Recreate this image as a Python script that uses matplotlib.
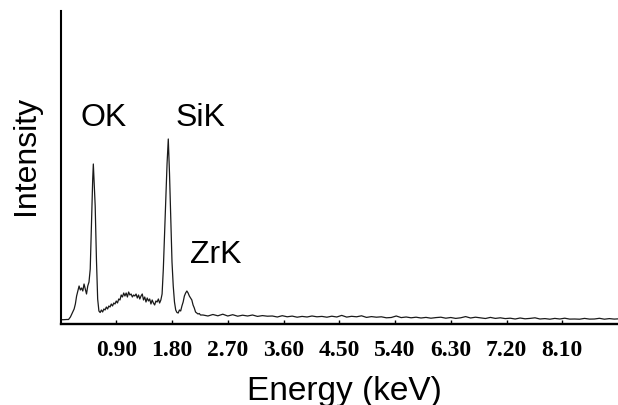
"""
EDS 能谱图 (OK / SiK / ZrK)
"""

import matplotlib
matplotlib.use("Agg")
import matplotlib.pyplot as plt

# 能量 (keV) —— 峰区取样较密
energy_peaks = [
    0.00, 0.05, 0.10, 0.13, 0.16, 0.19, 0.22, 0.24, 0.26, 0.28,
    0.30, 0.32, 0.34, 0.36, 0.38, 0.40, 0.42, 0.44, 0.46, 0.48,
    0.50, 0.52, 0.53, 0.545, 0.56, 0.58, 0.60, 0.62, 0.64, 0.66,
    0.68, 0.70, 0.72, 0.74, 0.76, 0.78, 0.80, 0.82, 0.84, 0.86,
    0.88, 0.90, 0.92, 0.94, 0.96, 0.98, 1.00, 1.02, 1.04, 1.06,
    1.08, 1.10, 1.12, 1.14, 1.16, 1.18, 1.20, 1.22, 1.24, 1.26,
    1.28, 1.30, 1.32, 1.34, 1.36, 1.38, 1.40, 1.42, 1.44, 1.46,
    1.48, 1.50, 1.52, 1.54, 1.56, 1.58, 1.60, 1.62, 1.64, 1.66,
    1.68, 1.70, 1.72, 1.74, 1.76, 1.78, 1.80, 1.82, 1.84, 1.86,
    1.88, 1.90, 1.92, 1.94, 1.96, 1.98, 2.00, 2.02, 2.04, 2.06,
    2.08, 2.10, 2.12, 2.14, 2.16, 2.18, 2.20, 2.22, 2.24, 2.26,
]
counts_peaks = [
    4.3, 4.3, 4.5, 4.5, 7, 11, 15, 20, 28, 33,
    38, 34, 36, 33, 40, 35, 30, 38, 42, 55,
    100, 145, 160, 140, 118, 65, 25, 13, 11.5, 14,
    12, 15, 14, 17, 15, 18, 17, 20, 18, 21,
    20, 23, 21, 25, 24, 29, 27, 31, 28, 31,
    27, 32, 29, 30, 27, 29, 28, 30, 26, 29,
    25, 28, 30, 24, 27, 22, 26, 23, 25, 20,
    24, 21, 19, 23, 22, 25, 21, 24, 30, 55,
    90, 125, 160, 185, 150, 105, 62, 38, 22, 14,
    11.5, 11, 14, 13, 18, 22, 28, 31, 33, 31,
    28, 26, 24, 19, 16, 12, 11, 10, 10.5, 9,
]

# 高能段本底
energy_tail = [
    2.30, 2.38, 2.46, 2.54, 2.62, 2.70, 2.78, 2.86, 2.94, 3.02,
    3.10, 3.18, 3.26, 3.34, 3.42, 3.50, 3.58, 3.66, 3.74, 3.82,
    3.90, 3.98, 4.06, 4.14, 4.22, 4.30, 4.38, 4.46, 4.54, 4.62,
    4.70, 4.78, 4.86, 4.94, 5.02, 5.10, 5.18, 5.26, 5.34, 5.42,
    5.50, 5.58, 5.66, 5.74, 5.82, 5.90, 5.98, 6.06, 6.14, 6.22,
    6.30, 6.38, 6.46, 6.54, 6.62, 6.70, 6.78, 6.86, 6.94, 7.02,
    7.10, 7.18, 7.26, 7.34, 7.42, 7.50, 7.58, 7.66, 7.74, 7.82,
    7.90, 7.98, 8.06, 8.14, 8.22, 8.30, 8.38, 8.46, 8.54, 8.62,
    8.70, 8.78, 8.86, 8.94, 9.02,
]
counts_tail = [
    9.0, 8.0, 9.5, 8.2, 9.8, 8.0, 9.3, 7.8, 8.8, 8.0,
    9.0, 7.6, 8.4, 7.8, 8.0, 7.0, 8.3, 7.2, 7.9, 6.8,
    7.6, 7.0, 8.0, 7.2, 7.6, 6.8, 7.8, 7.0, 8.6, 6.9,
    7.7, 7.2, 8.2, 6.6, 7.4, 6.8, 7.2, 6.2, 6.5, 8.0,
    6.4, 7.0, 6.2, 6.8, 6.0, 6.6, 5.8, 6.4, 6.8, 5.8,
    6.5, 5.6, 6.2, 7.4, 6.0, 6.8, 6.2, 5.5, 6.6, 5.6,
    6.2, 5.4, 5.8, 5.0, 6.0, 5.2, 5.6, 6.2, 5.0, 5.4,
    4.8, 5.6, 5.0, 5.8, 4.9, 5.0, 4.8, 5.6, 4.9, 5.0,
    5.7, 4.8, 5.4, 4.9, 5.2,
]

tick_values = [0.9, 1.8, 2.7, 3.6, 4.5, 5.4, 6.3, 7.2, 8.1]

# 峰标注: (文字, 能量, 强度)
peak_labels = [("OK", 0.315, 199), ("SiK", 1.85, 199), ("ZrK", 2.09, 62)]


def plot_spectrum():
    """绘制能谱图"""
    W, H = 618, 406
    fig = plt.figure(figsize=(W / 100, H / 100), dpi=100)
    ax = fig.add_axes([60.5 / W, 81 / H, (W - 60.5) / W, 313 / H])

    energy = energy_peaks + energy_tail
    counts = counts_peaks + counts_tail
    ax.plot(energy, counts, color="#1a1a1a", lw=0.9)

    ax.set_xlim(0, 9.0)
    ax.set_ylim(0, 313)

    for side in ["top", "right"]:
        ax.spines[side].set_visible(False)
    ax.spines["left"].set_linewidth(1.5)
    ax.spines["bottom"].set_linewidth(1.7)

    ax.set_yticks([])
    ax.set_xticks(tick_values)
    ax.set_xticklabels([f"{v:.2f}" for v in tick_values],
                       family="Liberation Serif", fontweight="bold", fontsize=17)
    ax.tick_params(axis="x", direction="in", length=3, width=1, pad=11)

    for text, x, y in peak_labels:
        ax.text(x, y, text, family="Liberation Sans", fontsize=23,
                ha="left", va="baseline")

    fig.text(344.5 / W, 1 - 400 / H, "Energy (keV)", family="Liberation Sans",
             fontsize=24, ha="center", va="baseline")
    fig.text(25.5 / W, 1 - 155 / H, "Intensity", family="Liberation Sans",
             fontsize=23, rotation=90, ha="center", va="center")

    fig.savefig("out.png", dpi=100)


if __name__ == "__main__":
    plot_spectrum()
